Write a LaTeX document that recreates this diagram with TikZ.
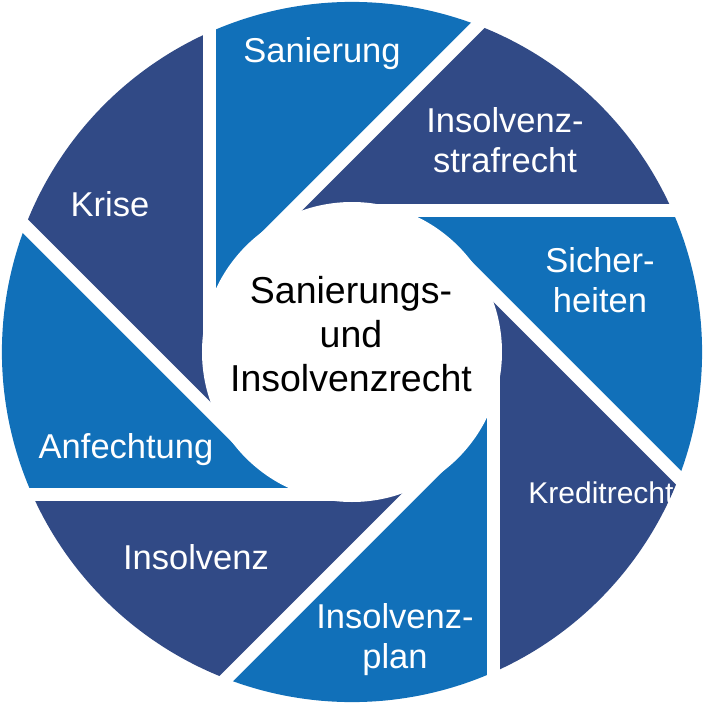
\documentclass[tikz,border=0pt]{standalone}
\usepackage{fontspec}
\setmainfont{Liberation Sans}
\definecolor{lb}{RGB}{17,112,185}
\definecolor{db}{RGB}{49,74,134}
\begin{document}
\begin{tikzpicture}[x=1pt,y=1pt,
  lbl/.style={text=white,align=center,font=\fontsize{34.5}{40}\selectfont}]
\useasboundingbox[fill=white] (-352,-353) rectangle (351,352);
\foreach \k/\col in {0/lb,1/db,2/lb,3/db,4/lb,5/db,6/lb,7/db}{
  \pgfmathsetmacro\pa{180-45*\k}
  \pgfmathsetmacro\pb{\pa-45}
  \pgfmathsetmacro\sa{\pa-66.07}
  \pgfmathsetmacro\sb{\pb-66.07}
  \fill[\col] (0,0) -- (\pa:142pt) -- (\sa:350.1pt) arc[start angle=\sa,end angle=\sb,radius=350.1pt] -- (\pb:142pt) -- cycle;
}
\foreach \k in {0,...,7}{
  \pgfmathsetmacro\pa{180-45*\k}
  \draw[white,line width=13pt] (\pa:142pt) -- ++(\pa-90:380pt);
}
\fill[white] (0,0) circle[radius=150pt];
\node[font=\fontsize{37.5}{44}\selectfont,align=center] (c) at (-1,18) {Sanierungs-\\und\\Insolvenzrecht};
\node[lbl] (s1) at (-30,298) {Sanierung};
\node[lbl] (s2) at (153,212) {Insolvenz-\\strafrecht};
\node[lbl] (s3) at (248,72) {Sicher-\\heiten};
\node[lbl,font=\fontsize{30}{36}\selectfont] (s4) at (249,-141) {Kreditrecht};
\node[lbl] (s5) at (43,-288) {Insolvenz-\\plan};
\node[lbl] (s6) at (-156,-205) {Insolvenz};
\node[lbl] (s7) at (-226,-98) {Anfechtung};
\node[lbl] (s8) at (-242,148) {Krise};
\end{tikzpicture}
\end{document}
